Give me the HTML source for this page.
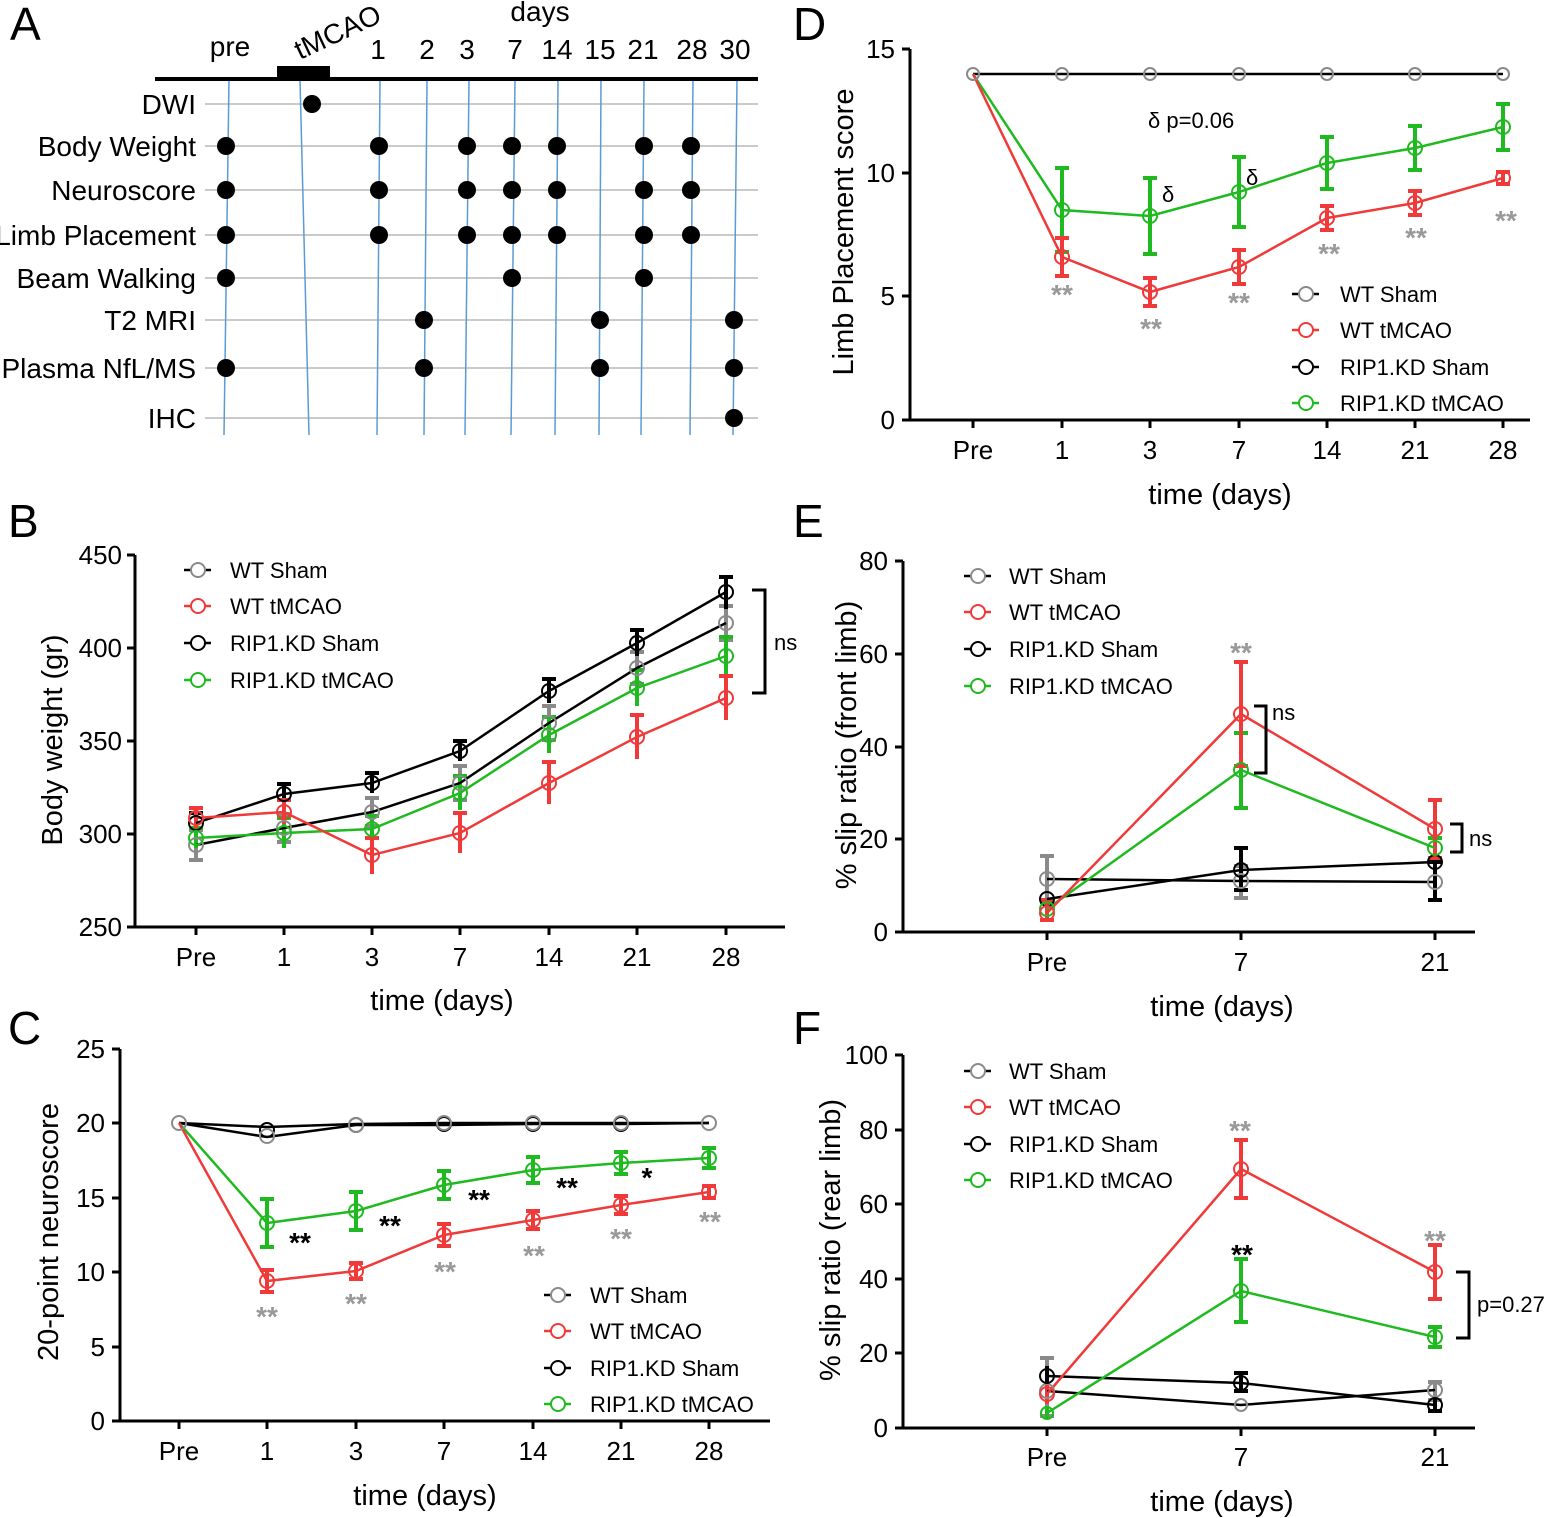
<!DOCTYPE html><html><head><meta charset="utf-8"><style>
body{margin:0;background:#fff}
svg{display:block;font-family:"Liberation Sans",Arial,sans-serif}
.t{font-size:26px}.at{font-size:29px}.lg{font-size:22px}.pl{font-size:46px}
.a{font-size:28px}
.r{stroke:#f03a3a}.g{stroke:#1fba1f}.k{stroke:#000}.y{stroke:#8a8a8a}
polyline{fill:none;stroke-width:2.5}
circle{fill:none;stroke-width:2}
.eb{stroke-width:4;fill:none}
.d circle{fill:#000;stroke:none}
</style></head><body>
<svg width="1547" height="1518" viewBox="0 0 1547 1518">
<text class="pl" x="10" y="40">A</text><text class="pl" x="8" y="537">B</text><text class="pl" x="8" y="1044">C</text>
<text class="pl" x="793" y="40">D</text><text class="pl" x="793" y="537">E</text><text class="pl" x="793" y="1044">F</text>

<!-- Panel A -->
<g stroke="#aaa" stroke-width="1.3">
<line x1="205" y1="104" x2="758" y2="104"/><line x1="205" y1="146" x2="758" y2="146"/><line x1="205" y1="190" x2="758" y2="190"/>
<line x1="205" y1="235" x2="758" y2="235"/><line x1="205" y1="278" x2="758" y2="278"/><line x1="205" y1="320" x2="758" y2="320"/>
<line x1="205" y1="368" x2="758" y2="368"/><line x1="205" y1="418" x2="758" y2="418"/>
</g>
<g stroke="#5b9bd5" stroke-width="1.5">
<line x1="229" y1="80" x2="224" y2="435"/><line x1="300" y1="80" x2="309" y2="435"/><line x1="380" y1="80" x2="377" y2="435"/>
<line x1="427" y1="80" x2="424" y2="435"/><line x1="469" y1="80" x2="465" y2="435"/><line x1="515" y1="80" x2="511" y2="435"/>
<line x1="558" y1="80" x2="555" y2="435"/><line x1="601" y1="80" x2="599" y2="435"/><line x1="644" y1="80" x2="641" y2="435"/>
<line x1="693" y1="80" x2="690" y2="435"/><line x1="737" y1="80" x2="733" y2="435"/>
</g>
<line x1="155" y1="79" x2="758" y2="79" stroke="#000" stroke-width="4"/>
<rect x="277" y="66" width="53" height="13" fill="#000"/>
<g class="a">
<text x="230" y="56" text-anchor="middle">pre</text>
<text x="300" y="60" transform="rotate(-25 300 60)">tMCAO</text>
<text x="540" y="21" text-anchor="middle">days</text>
<text x="378" y="59" text-anchor="middle">1</text><text x="427" y="59" text-anchor="middle">2</text><text x="467" y="59" text-anchor="middle">3</text>
<text x="515" y="59" text-anchor="middle">7</text><text x="557" y="59" text-anchor="middle">14</text><text x="600" y="59" text-anchor="middle">15</text>
<text x="643" y="59" text-anchor="middle">21</text><text x="692" y="59" text-anchor="middle">28</text><text x="735" y="59" text-anchor="middle">30</text>
</g>
<g class="a" text-anchor="end">
<text x="196" y="114">DWI</text><text x="196" y="156">Body Weight</text><text x="196" y="200">Neuroscore</text>
<text x="196" y="245">Limb Placement</text><text x="196" y="288">Beam Walking</text><text x="196" y="330">T2 MRI</text>
<text x="196" y="378">Plasma NfL/MS</text><text x="196" y="428">IHC</text>
</g>
<g class="d">
<circle cx="312" cy="104" r="9"/>
<circle cx="226" cy="146" r="9"/><circle cx="379" cy="146" r="9"/><circle cx="467" cy="146" r="9"/><circle cx="512" cy="146" r="9"/><circle cx="557" cy="146" r="9"/><circle cx="644" cy="146" r="9"/><circle cx="691" cy="146" r="9"/>
<circle cx="226" cy="190" r="9"/><circle cx="379" cy="190" r="9"/><circle cx="467" cy="190" r="9"/><circle cx="512" cy="190" r="9"/><circle cx="557" cy="190" r="9"/><circle cx="644" cy="190" r="9"/><circle cx="691" cy="190" r="9"/>
<circle cx="226" cy="235" r="9"/><circle cx="379" cy="235" r="9"/><circle cx="467" cy="235" r="9"/><circle cx="512" cy="235" r="9"/><circle cx="557" cy="235" r="9"/><circle cx="644" cy="235" r="9"/><circle cx="691" cy="235" r="9"/>
<circle cx="226" cy="278" r="9"/><circle cx="512" cy="278" r="9"/><circle cx="644" cy="278" r="9"/>
<circle cx="424" cy="320" r="9"/><circle cx="600" cy="320" r="9"/><circle cx="734" cy="320" r="9"/>
<circle cx="226" cy="368" r="9"/><circle cx="424" cy="368" r="9"/><circle cx="600" cy="368" r="9"/><circle cx="734" cy="368" r="9"/>
<circle cx="734" cy="418" r="9"/>
</g>

<!-- Panel B -->
<path d="M135 555V927H785M127 555H135M127 648H135M127 741H135M127 834H135M127 927H135M196 927v8M284 927v8M372 927v8M460 927v8M549 927v8M637 927v8M726 927v8" stroke="#000" stroke-width="3" fill="none"/>
<g class="t" text-anchor="end"><text x="122" y="564">450</text><text x="122" y="657">400</text><text x="122" y="750">350</text><text x="122" y="843">300</text><text x="122" y="936">250</text></g>
<g class="t" text-anchor="middle"><text x="196" y="966">Pre</text><text x="284" y="966">1</text><text x="372" y="966">3</text><text x="460" y="966">7</text><text x="549" y="966">14</text><text x="637" y="966">21</text><text x="726" y="966">28</text></g>
<text class="at" x="442" y="1010" text-anchor="middle">time (days)</text>
<text class="at" x="62" y="740" text-anchor="middle" transform="rotate(-90 62 740)">Body weight (gr)</text>
<g class="eb y"><path d="M196 830V860M189 830h14M189 860h14M284 814V842M277 814h14M277 842h14M372 798V826M365 798h14M365 826h14M460 766V800M453 766h14M453 800h14M549 706V740M542 706h14M542 740h14M637 652V684M630 652h14M630 684h14M726 606V640M719 606h14M719 640h14"/></g>
<g class="eb k"><path d="M196 813V833M189 813h14M284 784V804M277 784h14M372 773V793M365 773h14M460 741V761M453 741h14M549 679V703M542 679h14M637 630V656M630 630h14M726 577V609M719 577h14"/></g>
<g class="eb g"><path d="M196 828V848M189 828h14M284 818V848M277 818h14M372 816V842M365 816h14M460 776V810M453 776h14M549 717V753M542 717h14M637 670V706M630 670h14M726 637V675M719 637h14"/></g>
<g class="eb r"><path d="M196 808V828M189 808h14M284 800V824M277 800h14M372 838V874M365 838h14M460 813V853M453 813h14M549 762V804M542 762h14M637 715V759M630 715h14M726 676V720M719 676h14"/></g>
<polyline class="k" points="196,845 284,828 372,812 460,783 549,723 637,668 726,623"/>
<polyline class="k" points="196,823 284,794 372,783 460,751 549,691 637,643 726,592"/>
<polyline class="g" points="196,838 284,833 372,829 460,793 549,735 637,688 726,656"/>
<polyline class="r" points="196,818 284,812 372,855 460,833 549,783 637,737 726,698"/>
<g class="y"><circle cx="196" cy="845" r="7"/><circle cx="284" cy="828" r="7"/><circle cx="372" cy="812" r="7"/><circle cx="460" cy="783" r="7"/><circle cx="549" cy="723" r="7"/><circle cx="637" cy="668" r="7"/><circle cx="726" cy="623" r="7"/></g>
<g class="k"><circle cx="196" cy="823" r="7"/><circle cx="284" cy="794" r="7"/><circle cx="372" cy="783" r="7"/><circle cx="460" cy="751" r="7"/><circle cx="549" cy="691" r="7"/><circle cx="637" cy="643" r="7"/><circle cx="726" cy="592" r="7"/></g>
<g class="g"><circle cx="196" cy="838" r="7"/><circle cx="284" cy="833" r="7"/><circle cx="372" cy="829" r="7"/><circle cx="460" cy="793" r="7"/><circle cx="549" cy="735" r="7"/><circle cx="637" cy="688" r="7"/><circle cx="726" cy="656" r="7"/></g>
<g class="r"><circle cx="196" cy="818" r="7"/><circle cx="284" cy="812" r="7"/><circle cx="372" cy="855" r="7"/><circle cx="460" cy="833" r="7"/><circle cx="549" cy="783" r="7"/><circle cx="637" cy="737" r="7"/><circle cx="726" cy="698" r="7"/></g>
<path d="M752 590H765V693H752" stroke="#000" stroke-width="3" fill="none"/><text x="774" y="650" class="lg">ns</text>
<g class="lg"><path d="M184 570h27" class="k" stroke-width="2.5"/><circle cx="198" cy="570" r="7" class="y" style="fill:#fff"/><text x="230" y="578">WT Sham</text>
<path d="M184 606h27" class="r" stroke-width="2.5"/><circle cx="198" cy="606" r="7" class="r" style="fill:#fff"/><text x="230" y="614">WT tMCAO</text>
<path d="M184 643h27" class="k" stroke-width="2.5"/><circle cx="198" cy="643" r="7" class="k" style="fill:#fff"/><text x="230" y="651">RIP1.KD Sham</text>
<path d="M184 680h27" class="g" stroke-width="2.5"/><circle cx="198" cy="680" r="7" class="g" style="fill:#fff"/><text x="230" y="688">RIP1.KD tMCAO</text></g>

<!-- Panel C -->
<path d="M120 1049V1421H770M112 1049H120M112 1123H120M112 1198H120M112 1272H120M112 1347H120M112 1421H120M179 1421v8M267 1421v8M356 1421v8M444 1421v8M533 1421v8M621 1421v8M709 1421v8" stroke="#000" stroke-width="3" fill="none"/>
<g class="t" text-anchor="end"><text x="105" y="1058">25</text><text x="105" y="1132">20</text><text x="105" y="1207">15</text><text x="105" y="1281">10</text><text x="105" y="1356">5</text><text x="105" y="1430">0</text></g>
<g class="t" text-anchor="middle"><text x="179" y="1460">Pre</text><text x="267" y="1460">1</text><text x="356" y="1460">3</text><text x="444" y="1460">7</text><text x="533" y="1460">14</text><text x="621" y="1460">21</text><text x="709" y="1460">28</text></g>
<text class="at" x="425" y="1505" text-anchor="middle">time (days)</text>
<text class="at" x="58" y="1232" text-anchor="middle" transform="rotate(-90 58 1232)">20-point neuroscore</text>
<g class="eb g"><path d="M267 1199V1247M260 1199h14M260 1247h14M356 1192V1230M349 1192h14M349 1230h14M444 1171V1199M437 1171h14M437 1199h14M533 1157V1183M526 1157h14M526 1183h14M621 1152V1174M614 1152h14M614 1174h14M709 1148V1168M702 1148h14M702 1168h14"/></g>
<g class="eb r"><path d="M267 1270V1292M260 1270h14M260 1292h14M356 1263V1279M349 1263h14M349 1279h14M444 1224V1246M437 1224h14M437 1246h14M533 1211V1229M526 1211h14M526 1229h14M621 1196V1214M614 1196h14M614 1214h14M709 1186V1198M702 1186h14M702 1198h14"/></g>
<polyline class="k" points="179,1123 267,1127 356,1124 444,1123 533,1123 621,1123 709,1123"/>
<polyline class="k" points="179,1123 267,1137 356,1125 444,1125 533,1124 621,1124 709,1123"/>
<polyline class="g" points="179,1123 267,1223 356,1211 444,1185 533,1170 621,1163 709,1158"/>
<polyline class="r" points="179,1123 267,1281 356,1271 444,1235 533,1220 621,1205 709,1192"/>
<g class="k"><circle cx="267" cy="1130" r="7"/><circle cx="356" cy="1125" r="7"/><circle cx="444" cy="1124" r="7"/><circle cx="533" cy="1124" r="7"/><circle cx="621" cy="1124" r="7"/></g>
<g class="y"><circle cx="179" cy="1123" r="7"/><circle cx="267" cy="1136" r="7"/><circle cx="356" cy="1125" r="7"/><circle cx="444" cy="1123" r="7"/><circle cx="533" cy="1123" r="7"/><circle cx="621" cy="1123" r="7"/><circle cx="709" cy="1123" r="7"/></g>
<g class="g"><circle cx="267" cy="1223" r="7"/><circle cx="356" cy="1211" r="7"/><circle cx="444" cy="1185" r="7"/><circle cx="533" cy="1170" r="7"/><circle cx="621" cy="1163" r="7"/><circle cx="709" cy="1158" r="7"/></g>
<g class="r"><circle cx="267" cy="1281" r="7"/><circle cx="356" cy="1271" r="7"/><circle cx="444" cy="1235" r="7"/><circle cx="533" cy="1220" r="7"/><circle cx="621" cy="1205" r="7"/><circle cx="709" cy="1192" r="7"/></g>
<g font-size="28" font-weight="bold" text-anchor="middle"><text x="300" y="1252">**</text><text x="390" y="1235">**</text><text x="479" y="1209">**</text><text x="567" y="1197">**</text><text x="647" y="1187">*</text></g>
<g font-size="28" font-weight="bold" text-anchor="middle" fill="#999"><text x="267" y="1326">**</text><text x="356" y="1313">**</text><text x="445" y="1281">**</text><text x="534" y="1265">**</text><text x="621" y="1248">**</text><text x="710" y="1231">**</text></g>
<g class="lg"><path d="M544 1295h27" class="k" stroke-width="2.5"/><circle cx="558" cy="1295" r="7" class="y" style="fill:#fff"/><text x="590" y="1303">WT Sham</text>
<path d="M544 1331h27" class="r" stroke-width="2.5"/><circle cx="558" cy="1331" r="7" class="r" style="fill:#fff"/><text x="590" y="1339">WT tMCAO</text>
<path d="M544 1368h27" class="k" stroke-width="2.5"/><circle cx="558" cy="1368" r="7" class="k" style="fill:#fff"/><text x="590" y="1376">RIP1.KD Sham</text>
<path d="M544 1404h27" class="g" stroke-width="2.5"/><circle cx="558" cy="1404" r="7" class="g" style="fill:#fff"/><text x="590" y="1412">RIP1.KD tMCAO</text></g>

<!-- Panel D -->
<path d="M910 49V420H1530M902 49H910M902 173H910M902 296H910M902 420H910M973 420v8M1062 420v8M1150 420v8M1239 420v8M1327 420v8M1415 420v8M1503 420v8" stroke="#000" stroke-width="3" fill="none"/>
<g class="t" text-anchor="end"><text x="895" y="58">15</text><text x="895" y="182">10</text><text x="895" y="305">5</text><text x="895" y="429">0</text></g>
<g class="t" text-anchor="middle"><text x="973" y="459">Pre</text><text x="1062" y="459">1</text><text x="1150" y="459">3</text><text x="1239" y="459">7</text><text x="1327" y="459">14</text><text x="1415" y="459">21</text><text x="1503" y="459">28</text></g>
<text class="at" x="1220" y="504" text-anchor="middle">time (days)</text>
<text class="at" x="853" y="232" text-anchor="middle" transform="rotate(-90 853 232)">Limb Placement score</text>
<g class="eb g"><path d="M1062 168V252M1055 168h14M1055 252h14M1150 178V254M1143 178h14M1143 254h14M1239 157V227M1232 157h14M1232 227h14M1327 137V189M1320 137h14M1320 189h14M1415 126V170M1408 126h14M1408 170h14M1503 104V150M1496 104h14M1496 150h14"/></g>
<g class="eb r"><path d="M1062 238V276M1055 238h14M1055 276h14M1150 278V306M1143 278h14M1143 306h14M1239 250V284M1232 250h14M1232 284h14M1327 206V230M1320 206h14M1320 230h14M1415 191V215M1408 191h14M1408 215h14M1503 172V184M1496 172h14M1496 184h14"/></g>
<polyline class="k" points="973,74 1503,74"/>
<polyline class="g" points="973,74 1062,210 1150,216 1239,192 1327,163 1415,148 1503,127"/>
<polyline class="r" points="973,74 1062,257 1150,292 1239,267 1327,218 1415,203 1503,178"/>
<g class="y"><circle cx="973" cy="74" r="6"/><circle cx="1062" cy="74" r="6"/><circle cx="1150" cy="74" r="6"/><circle cx="1239" cy="74" r="6"/><circle cx="1327" cy="74" r="6"/><circle cx="1415" cy="74" r="6"/><circle cx="1503" cy="74" r="6"/></g>
<g class="g"><circle cx="1062" cy="210" r="7"/><circle cx="1150" cy="216" r="7"/><circle cx="1239" cy="192" r="7"/><circle cx="1327" cy="163" r="7"/><circle cx="1415" cy="148" r="7"/><circle cx="1503" cy="127" r="7"/></g>
<g class="r"><circle cx="1062" cy="257" r="7"/><circle cx="1150" cy="292" r="7"/><circle cx="1239" cy="267" r="7"/><circle cx="1327" cy="218" r="7"/><circle cx="1415" cy="203" r="7"/><circle cx="1503" cy="178" r="7"/></g>
<g font-size="28" font-weight="bold" text-anchor="middle" fill="#999"><text x="1062" y="304">**</text><text x="1151" y="338">**</text><text x="1239" y="312">**</text><text x="1329" y="263">**</text><text x="1416" y="247">**</text><text x="1506" y="230">**</text></g>
<text x="1148" y="128" class="lg">δ p=0.06</text><text x="1162" y="202" class="lg">δ</text><text x="1246" y="185" class="lg">δ</text>
<g class="lg"><path d="M1292 294h27" class="k" stroke-width="2.5"/><circle cx="1306" cy="294" r="7" class="y" style="fill:#fff"/><text x="1340" y="302">WT Sham</text>
<path d="M1292 330h27" class="r" stroke-width="2.5"/><circle cx="1306" cy="330" r="7" class="r" style="fill:#fff"/><text x="1340" y="338">WT tMCAO</text>
<path d="M1292 367h27" class="k" stroke-width="2.5"/><circle cx="1306" cy="367" r="7" class="k" style="fill:#fff"/><text x="1340" y="375">RIP1.KD Sham</text>
<path d="M1292 403h27" class="g" stroke-width="2.5"/><circle cx="1306" cy="403" r="7" class="g" style="fill:#fff"/><text x="1340" y="411">RIP1.KD tMCAO</text></g>

<!-- Panel E -->
<path d="M903 561V932H1475M895 561H903M895 654H903M895 747H903M895 839H903M895 932H903M1047 932v8M1241 932v8M1435 932v8" stroke="#000" stroke-width="3" fill="none"/>
<g class="t" text-anchor="end"><text x="888" y="570">80</text><text x="888" y="663">60</text><text x="888" y="756">40</text><text x="888" y="848">20</text><text x="888" y="941">0</text></g>
<g class="t" text-anchor="middle"><text x="1047" y="971">Pre</text><text x="1241" y="971">7</text><text x="1435" y="971">21</text></g>
<text class="at" x="1222" y="1016" text-anchor="middle">time (days)</text>
<text class="at" x="856" y="745" text-anchor="middle" transform="rotate(-90 856 745)">% slip ratio (front limb)</text>
<g class="eb y"><path d="M1047 856V902M1040 856h14M1040 902h14M1241 866V898M1234 866h14M1234 898h14"/></g>
<g class="eb k"><path d="M1241 848V890M1234 848h14M1234 890h14M1435 862V900M1428 862h14M1428 900h14"/></g>
<g class="eb g"><path d="M1241 733V808M1234 733h14M1234 808h14M1435 838V858M1428 838h14M1428 858h14"/></g>
<g class="eb r"><path d="M1047 900V920M1040 900h14M1040 920h14M1241 662V766M1234 662h14M1234 766h14M1435 800V858M1428 800h14M1428 858h14"/></g>
<polyline class="k" points="1047,879 1241,881 1435,882"/>
<polyline class="k" points="1047,899 1241,870 1435,862"/>
<polyline class="g" points="1047,909 1241,770 1435,848"/>
<polyline class="r" points="1047,913 1241,714 1435,829"/>
<g class="y"><circle cx="1047" cy="879" r="7"/><circle cx="1241" cy="881" r="7"/><circle cx="1435" cy="882" r="7"/></g>
<g class="k"><circle cx="1047" cy="899" r="7"/><circle cx="1241" cy="870" r="7"/><circle cx="1435" cy="862" r="7"/></g>
<g class="g"><circle cx="1047" cy="909" r="7"/><circle cx="1241" cy="770" r="7"/><circle cx="1435" cy="848" r="7"/></g>
<g class="r"><circle cx="1047" cy="913" r="7"/><circle cx="1241" cy="714" r="7"/><circle cx="1435" cy="829" r="7"/></g>
<text x="1241" y="662" font-size="28" font-weight="bold" text-anchor="middle" fill="#999">**</text>
<path d="M1254 706H1266V773H1254M1450 824H1462V852H1450" stroke="#000" stroke-width="3" fill="none"/>
<text x="1272" y="720" class="lg">ns</text><text x="1469" y="846" class="lg">ns</text>
<g class="lg"><path d="M964 576h27" class="k" stroke-width="2.5"/><circle cx="978" cy="576" r="7" class="y" style="fill:#fff"/><text x="1009" y="584">WT Sham</text>
<path d="M964 612h27" class="r" stroke-width="2.5"/><circle cx="978" cy="612" r="7" class="r" style="fill:#fff"/><text x="1009" y="620">WT tMCAO</text>
<path d="M964 649h27" class="k" stroke-width="2.5"/><circle cx="978" cy="649" r="7" class="k" style="fill:#fff"/><text x="1009" y="657">RIP1.KD Sham</text>
<path d="M964 686h27" class="g" stroke-width="2.5"/><circle cx="978" cy="686" r="7" class="g" style="fill:#fff"/><text x="1009" y="694">RIP1.KD tMCAO</text></g>

<!-- Panel F -->
<path d="M903 1055V1428H1475M895 1055H903M895 1130H903M895 1204H903M895 1279H903M895 1353H903M895 1428H903M1047 1428v8M1241 1428v8M1435 1428v8" stroke="#000" stroke-width="3" fill="none"/>
<g class="t" text-anchor="end"><text x="888" y="1064">100</text><text x="888" y="1139">80</text><text x="888" y="1213">60</text><text x="888" y="1288">40</text><text x="888" y="1362">20</text><text x="888" y="1437">0</text></g>
<g class="t" text-anchor="middle"><text x="1047" y="1466">Pre</text><text x="1241" y="1466">7</text><text x="1435" y="1466">21</text></g>
<text class="at" x="1222" y="1511" text-anchor="middle">time (days)</text>
<text class="at" x="840" y="1240" text-anchor="middle" transform="rotate(-90 840 1240)">% slip ratio (rear limb)</text>
<g class="eb y"><path d="M1047 1358V1416M1040 1358h14M1040 1416h14M1435 1382V1400M1428 1382h14M1428 1400h14"/></g>
<g class="eb k"><path d="M1047 1366V1386M1241 1373V1391M1234 1373h14M1234 1391h14M1435 1397V1411M1428 1411h14"/></g>
<g class="eb g"><path d="M1047 1406V1418M1241 1259V1322M1234 1259h14M1234 1322h14M1435 1327V1347M1428 1327h14M1428 1347h14"/></g>
<g class="eb r"><path d="M1047 1382V1404M1241 1140V1198M1234 1140h14M1234 1198h14M1435 1245V1299M1428 1245h14M1428 1299h14"/></g>
<polyline class="k" points="1047,1391 1241,1405 1435,1390"/>
<polyline class="k" points="1047,1376 1241,1383 1435,1405"/>
<polyline class="g" points="1047,1413 1241,1291 1435,1337"/>
<polyline class="r" points="1047,1394 1241,1169 1435,1272"/>
<g class="y"><circle cx="1047" cy="1391" r="7"/><circle cx="1241" cy="1405" r="6"/><circle cx="1435" cy="1390" r="7"/></g>
<g class="k"><circle cx="1047" cy="1376" r="7"/><circle cx="1241" cy="1383" r="7"/><circle cx="1435" cy="1405" r="7"/></g>
<g class="g"><circle cx="1047" cy="1413" r="6"/><circle cx="1241" cy="1291" r="7"/><circle cx="1435" cy="1337" r="7"/></g>
<g class="r"><circle cx="1047" cy="1394" r="7"/><circle cx="1241" cy="1169" r="7"/><circle cx="1435" cy="1272" r="7"/></g>
<g font-size="28" font-weight="bold" text-anchor="middle" fill="#999"><text x="1240" y="1140">**</text><text x="1435" y="1250">**</text></g>
<text x="1242" y="1264" font-size="28" font-weight="bold" text-anchor="middle">**</text>
<path d="M1456 1272H1469V1338H1456" stroke="#000" stroke-width="3" fill="none"/><text x="1477" y="1312" class="lg">p=0.27</text>
<g class="lg"><path d="M964 1071h27" class="k" stroke-width="2.5"/><circle cx="978" cy="1071" r="7" class="y" style="fill:#fff"/><text x="1009" y="1079">WT Sham</text>
<path d="M964 1107h27" class="r" stroke-width="2.5"/><circle cx="978" cy="1107" r="7" class="r" style="fill:#fff"/><text x="1009" y="1115">WT tMCAO</text>
<path d="M964 1144h27" class="k" stroke-width="2.5"/><circle cx="978" cy="1144" r="7" class="k" style="fill:#fff"/><text x="1009" y="1152">RIP1.KD Sham</text>
<path d="M964 1180h27" class="g" stroke-width="2.5"/><circle cx="978" cy="1180" r="7" class="g" style="fill:#fff"/><text x="1009" y="1188">RIP1.KD tMCAO</text></g>
</svg>
</body></html>
